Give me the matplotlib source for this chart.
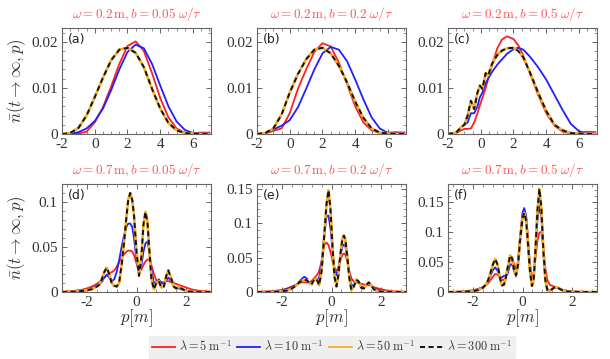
import matplotlib
matplotlib.use("Agg")
import matplotlib.pyplot as plt
from matplotlib.ticker import FixedLocator, AutoMinorLocator, FuncFormatter
from matplotlib.lines import Line2D

plt.rcParams['mathtext.fontset'] = 'cm'
plt.rcParams['axes.unicode_minus'] = False
plt.rcParams['font.family'] = 'serif'
plt.rcParams['font.serif'] = ['Liberation Serif', 'DejaVu Serif']

# ---------------- data ----------------
# top row, panels (a) and (b)
p_top = [-2, -1.5, -1, -0.5, 0, 0.5, 1, 1.5, 2, 2.5, 3, 3.5, 4, 4.5, 5, 5.5, 6, 6.5, 7]
red_a = [0, 0, 0.0001, 0.0005, 0.0025, 0.0058, 0.0103, 0.0152, 0.0191, 0.0201, 0.0180, 0.0132,
         0.0078, 0.0036, 0.0012, 0.0003, 0.0002, 0.0003, 0.0003]
blue_a = [0, 0, 0.0004, 0.0012, 0.0028, 0.0055, 0.0095, 0.0140, 0.0178, 0.0194, 0.0186, 0.0152,
          0.0105, 0.0060, 0.0027, 0.0009, 0.0002, 0.0001, 0.0001]
gold_a = [0, 0.0002, 0.0013, 0.0040, 0.0080, 0.0122, 0.0160, 0.0183, 0.0187, 0.0176, 0.0145, 0.0098,
          0.0055, 0.0024, 0.0008, 0.0002, 0.0001, 0, 0]
black_a = [0, 0.0002, 0.0013, 0.0040, 0.0080, 0.0122, 0.0160, 0.0183, 0.0187, 0.0176, 0.0145, 0.0098,
           0.0055, 0.0024, 0.0008, 0.0002, 0.0001, 0, 0]

red_b = [0, 0.0001, 0.0007, 0.0012, 0.0045, 0.0098, 0.0140, 0.0178, 0.0197, 0.0190, 0.0155, 0.0108,
         0.0060, 0.0025, 0.0008, 0.0002, 0.0003, 0.0004, 0.0003]
blue_b = [0, 0.0001, 0.0010, 0.0018, 0.0030, 0.0058, 0.0098, 0.0140, 0.0175, 0.0189, 0.0183, 0.0158,
          0.0118, 0.0075, 0.0036, 0.0012, 0.0002, 0.0001, 0.0001]
gold_b = [0, 0.0002, 0.0012, 0.0042, 0.0090, 0.0130, 0.0162, 0.0183, 0.0187, 0.0175, 0.0148, 0.0112,
          0.0070, 0.0035, 0.0012, 0.0003, 0.0001, 0, 0]
black_b = [0, 0.0002, 0.0012, 0.0042, 0.0090, 0.0130, 0.0162, 0.0183, 0.0187, 0.0175, 0.0148, 0.0112,
           0.0070, 0.0035, 0.0012, 0.0003, 0.0001, 0, 0]

# panel (c)
p_c = [-2, -1.5, -1.2, -1.0, -0.8, -0.6, -0.4, -0.2, -0.05, 0.1, 0.3, 0.45, 0.7, 1.0, 1.3, 1.6,
       2.0, 2.3, 2.6, 3.0, 3.5, 4.0, 4.5, 5.0, 5.5, 6.0, 6.5, 7.0]
red_c = [0, 0.0002, 0.0008, 0.0011, 0.0011, 0.0012, 0.0025, 0.0045, 0.0063, 0.0078, 0.0100, 0.0120,
         0.0150, 0.0185, 0.0205, 0.0212, 0.0206, 0.0192, 0.0170, 0.0132, 0.0085, 0.0045, 0.0018,
         0.0005, 0.0001, 0.0002, 0.0005, 0.0004]
blue_c = [0, 0.0003, 0.0015, 0.0020, 0.0025, 0.0045, 0.0045, 0.0060, 0.0080, 0.0090, 0.0110, 0.0120,
          0.0135, 0.0150, 0.0162, 0.0174, 0.0184, 0.0187, 0.0183, 0.0168, 0.0145, 0.0118, 0.0085,
          0.0052, 0.0022, 0.0006, 0.0001, 0]
gold_c = [0, 0.0003, 0.0015, 0.0020, 0.0040, 0.0072, 0.0054, 0.0090, 0.0105, 0.0098, 0.0132, 0.0127,
          0.0153, 0.0171, 0.0181, 0.0186, 0.0187, 0.0180, 0.0166, 0.0134, 0.0090, 0.0050, 0.0020,
          0.0008, 0.0002, 0.0001, 0, 0]
black_c = [0, 0.0003, 0.0015, 0.0020, 0.0040, 0.0072, 0.0054, 0.0090, 0.0105, 0.0098, 0.0132, 0.0127,
           0.0153, 0.0171, 0.0181, 0.0186, 0.0187, 0.0180, 0.0166, 0.0134, 0.0090, 0.0050, 0.0020,
           0.0008, 0.0002, 0.0001, 0, 0]

# panel (d)
p_d = [-3, -2.5, -2.2, -2.0, -1.8, -1.6, -1.5, -1.4, -1.3, -1.2, -1.1, -1.0, -0.9, -0.8, -0.7, -0.6,
       -0.5, -0.4, -0.33, -0.25, -0.17, -0.1, 0.0, 0.1, 0.2, 0.28, 0.36, 0.44, 0.52, 0.6, 0.7, 0.8,
       0.9, 1.0, 1.1, 1.2, 1.28, 1.4, 1.5, 1.6, 1.7, 1.8, 2.0, 2.2, 2.5, 3.0]
red_d = [0.0003, 0.0012, 0.0025, 0.004, 0.006, 0.009, 0.011, 0.013, 0.016, 0.019, 0.021, 0.022,
         0.024, 0.028, 0.033, 0.038, 0.042, 0.045, 0.046, 0.046, 0.045, 0.041, 0.032, 0.023, 0.025,
         0.030, 0.034, 0.036, 0.036, 0.030, 0.020, 0.013, 0.011, 0.011, 0.011, 0.012, 0.012, 0.011,
         0.010, 0.009, 0.008, 0.007, 0.005, 0.003, 0.0015, 0.0004]
blue_d = [0, 0.0005, 0.0012, 0.002, 0.004, 0.007, 0.009, 0.011, 0.016, 0.019, 0.016, 0.012, 0.014,
          0.022, 0.035, 0.050, 0.063, 0.073, 0.076, 0.076, 0.072, 0.060, 0.035, 0.019, 0.030, 0.045,
          0.054, 0.056, 0.045, 0.025, 0.010, 0.011, 0.014, 0.010, 0.009, 0.013, 0.016, 0.012, 0.006,
          0.004, 0.004, 0.003, 0.0015, 0.0006, 0.0002, 0]
gold_d = [0, 0.0003, 0.001, 0.002, 0.003, 0.006, 0.008, 0.014, 0.022, 0.027, 0.020, 0.010, 0.007,
          0.006, 0.010, 0.030, 0.055, 0.085, 0.103, 0.110, 0.102, 0.085, 0.045, 0.018, 0.040, 0.075,
          0.089, 0.078, 0.045, 0.015, 0.003, 0.010, 0.012, 0.005, 0.006, 0.018, 0.024, 0.015, 0.006,
          0.004, 0.006, 0.004, 0.001, 0.0003, 0, 0]
black_d = [0, 0.0003, 0.001, 0.002, 0.003, 0.006, 0.008, 0.014, 0.022, 0.027, 0.020, 0.010, 0.007,
           0.006, 0.010, 0.030, 0.055, 0.085, 0.103, 0.110, 0.102, 0.085, 0.045, 0.018, 0.040, 0.075,
           0.089, 0.078, 0.045, 0.015, 0.003, 0.010, 0.012, 0.005, 0.006, 0.018, 0.024, 0.015, 0.006,
           0.004, 0.006, 0.004, 0.001, 0.0003, 0, 0]

# panel (e)
p_e = [-3, -2.5, -2.2, -2.0, -1.8, -1.6, -1.4, -1.3, -1.2, -1.1, -1.0, -0.9, -0.8, -0.7, -0.6, -0.5,
       -0.4, -0.3, -0.2, -0.12, -0.04, 0.05, 0.12, 0.2, 0.28, 0.36, 0.44, 0.5, 0.56, 0.64, 0.72, 0.8,
       0.9, 1.0, 1.1, 1.2, 1.3, 1.4, 1.5, 1.6, 1.7, 1.8, 2.0, 2.2, 2.5, 3.0]
red_e = [0.0002, 0.001, 0.002, 0.003, 0.005, 0.008, 0.011, 0.013, 0.014, 0.014, 0.014, 0.014, 0.016,
         0.020, 0.024, 0.030, 0.045, 0.068, 0.072, 0.068, 0.058, 0.044, 0.034, 0.031, 0.036, 0.046,
         0.054, 0.056, 0.054, 0.044, 0.030, 0.020, 0.015, 0.014, 0.013, 0.012, 0.011, 0.010, 0.010,
         0.009, 0.007, 0.006, 0.004, 0.0025, 0.001, 0.0003]
blue_e = [0, 0.0003, 0.001, 0.002, 0.004, 0.007, 0.011, 0.015, 0.019, 0.022, 0.020, 0.013, 0.014,
          0.019, 0.018, 0.020, 0.042, 0.080, 0.110, 0.111, 0.092, 0.058, 0.034, 0.024, 0.035, 0.053,
          0.066, 0.069, 0.066, 0.048, 0.025, 0.010, 0.010, 0.016, 0.014, 0.008, 0.007, 0.010, 0.013,
          0.010, 0.006, 0.004, 0.0015, 0.0006, 0.0001, 0]
gold_e = [0, 0, 0.0003, 0.001, 0.002, 0.005, 0.010, 0.014, 0.016, 0.018, 0.017, 0.013, 0.011, 0.018,
          0.019, 0.010, 0.030, 0.078, 0.128, 0.148, 0.120, 0.060, 0.022, 0.008, 0.025, 0.055, 0.078,
          0.082, 0.076, 0.050, 0.020, 0.003, 0.008, 0.018, 0.015, 0.006, 0.005, 0.010, 0.014, 0.010,
          0.004, 0.002, 0.0005, 0.0002, 0, 0]
black_e = [0, 0, 0.0003, 0.001, 0.002, 0.005, 0.010, 0.014, 0.016, 0.018, 0.017, 0.013, 0.011, 0.018,
           0.019, 0.010, 0.030, 0.078, 0.128, 0.148, 0.120, 0.060, 0.022, 0.008, 0.025, 0.055, 0.078,
           0.082, 0.076, 0.050, 0.020, 0.003, 0.008, 0.018, 0.015, 0.006, 0.005, 0.010, 0.014, 0.010,
           0.004, 0.002, 0.0005, 0.0002, 0, 0]

# panel (f)
p_f = [-3, -2.5, -2.0, -1.8, -1.6, -1.5, -1.4, -1.3, -1.2, -1.1, -1.0, -0.9, -0.83, -0.75, -0.68,
       -0.6, -0.5, -0.42, -0.35, -0.26, -0.18, -0.1, 0.0, 0.07, 0.15, 0.22, 0.3, 0.38, 0.45, 0.52,
       0.6, 0.68, 0.76, 0.84, 0.92, 1.0, 1.1, 1.2, 1.3, 1.4, 1.5, 1.6, 1.8, 2.0, 2.5, 3.0]
red_f = [0.0001, 0.0006, 0.003, 0.005, 0.008, 0.010, 0.014, 0.019, 0.025, 0.030, 0.029, 0.024, 0.020,
         0.020, 0.024, 0.035, 0.055, 0.058, 0.048, 0.038, 0.052, 0.090, 0.128, 0.137, 0.125, 0.090,
         0.048, 0.025, 0.030, 0.055, 0.085, 0.099, 0.100, 0.075, 0.040, 0.020, 0.012, 0.010, 0.009,
         0.008, 0.006, 0.004, 0.002, 0.001, 0.0002, 0]
blue_f = [0, 0.0003, 0.002, 0.004, 0.008, 0.012, 0.018, 0.026, 0.036, 0.041, 0.035, 0.026, 0.024,
          0.027, 0.027, 0.030, 0.046, 0.046, 0.036, 0.026, 0.045, 0.090, 0.132, 0.140, 0.125, 0.085,
          0.040, 0.015, 0.022, 0.065, 0.118, 0.144, 0.125, 0.065, 0.020, 0.005, 0.003, 0.005, 0.007,
          0.007, 0.005, 0.003, 0.001, 0.0004, 0, 0]
gold_f = [0, 0.0002, 0.0015, 0.003, 0.007, 0.011, 0.018, 0.030, 0.045, 0.055, 0.045, 0.022, 0.011,
          0.012, 0.022, 0.040, 0.061, 0.056, 0.040, 0.028, 0.045, 0.085, 0.122, 0.132, 0.118, 0.080,
          0.035, 0.010, 0.020, 0.070, 0.135, 0.172, 0.140, 0.070, 0.020, 0.003, 0.002, 0.005, 0.008,
          0.008, 0.005, 0.003, 0.001, 0.0003, 0, 0]
black_f = [0, 0.0002, 0.0015, 0.003, 0.007, 0.011, 0.018, 0.030, 0.045, 0.055, 0.045, 0.022, 0.011,
           0.012, 0.022, 0.040, 0.061, 0.056, 0.040, 0.028, 0.045, 0.085, 0.122, 0.132, 0.118, 0.080,
           0.035, 0.010, 0.020, 0.070, 0.135, 0.172, 0.140, 0.070, 0.020, 0.003, 0.002, 0.005, 0.008,
           0.008, 0.005, 0.003, 0.001, 0.0003, 0, 0]

titles = [r'$\omega = 0.2\,\mathrm{m}, b = 0.05\;\omega/\tau$',
          r'$\omega = 0.2\,\mathrm{m}, b = 0.2\;\omega/\tau$',
          r'$\omega = 0.2\,\mathrm{m}, b = 0.5\;\omega/\tau$',
          r'$\omega = 0.7\,\mathrm{m}, b = 0.05\;\omega/\tau$',
          r'$\omega = 0.7\,\mathrm{m}, b = 0.2\;\omega/\tau$',
          r'$\omega = 0.7\,\mathrm{m}, b = 0.5\;\omega/\tau$']
panel_tags = ['(a)', '(b)', '(c)', '(d)', '(e)', '(f)']
legend_labels = [r'$\lambda = 5\;\mathrm{m}^{-1}$', r'$\lambda = 10\;\mathrm{m}^{-1}$',
                 r'$\lambda = 50\;\mathrm{m}^{-1}$', r'$\lambda = 300\;\mathrm{m}^{-1}$']
top_xticks = [-2, 0, 2, 4, 6]
bot_xticks = [-2, 0, 2]
top_yticks = [0, 0.01, 0.02]
bot_yticks = [[0, 0.05, 0.1], [0, 0.05, 0.1, 0.15], [0, 0.05, 0.1, 0.15]]

panels = [
    (p_top, red_a, blue_a, gold_a, black_a),
    (p_top, red_b, blue_b, gold_b, black_b),
    (p_c, red_c, blue_c, gold_c, black_c),
    (p_d, red_d, blue_d, gold_d, black_d),
    (p_e, red_e, blue_e, gold_e, black_e),
    (p_f, red_f, blue_f, gold_f, black_f),
]

# ---------------- style ----------------
C_RED = '#ff1f1f'
C_BLUE = '#1f1fff'
C_GOLD = '#f2ae2a'
C_BLACK = '#111111'
TITLE_C = '#ff5555'
FRAME_C = '#666666'
TICK_C = '#333333'

fig = plt.figure(figsize=(6.10, 3.59), dpi=100)
lefts = [62 / 610, 257 / 610, 448 / 610]
width = 149 / 610
top_row = (1 - 134 / 359, 106 / 359)
bot_row = (1 - 292 / 359, 108 / 359)
ylims = [(0, 0.023), (0, 0.023), (0, 0.023), (0, 0.12), (0, 0.157), (0, 0.18)]

fmt = FuncFormatter(lambda v, pos: f'{v:g}')

for i, (p, r, b, g, k) in enumerate(panels):
    row = 0 if i < 3 else 1
    col = i % 3
    bottom, height = top_row if row == 0 else bot_row
    ax = fig.add_axes([lefts[col], bottom, width, height])
    ax.plot(p, r, color=C_RED, lw=1.3)
    ax.plot(p, b, color=C_BLUE, lw=1.3)
    ax.plot(p, g, color=C_GOLD, lw=1.9)
    ax.plot(p, k, color=C_BLACK, lw=1.4, dashes=(2.6, 1.8))
    if row == 0:
        ax.set_xlim(-2, 7.1)
        ax.xaxis.set_major_locator(FixedLocator(top_xticks))
        ax.yaxis.set_major_locator(FixedLocator(top_yticks))
        ax.xaxis.set_minor_locator(AutoMinorLocator(4))
        ax.yaxis.set_minor_locator(AutoMinorLocator(5))
    else:
        ax.set_xlim(-3, 3)
        ax.xaxis.set_major_locator(FixedLocator(bot_xticks))
        ax.yaxis.set_major_locator(FixedLocator(bot_yticks[col]))
        ax.xaxis.set_minor_locator(AutoMinorLocator(5))
        ax.yaxis.set_minor_locator(AutoMinorLocator(5))
        ax.set_xlabel(r'$p[m]$', fontsize=12, color=TICK_C, labelpad=-1)
    ax.set_ylim(*ylims[i])
    ax.xaxis.set_major_formatter(fmt)
    ax.yaxis.set_major_formatter(fmt)
    ax.tick_params(which='both', direction='in', top=True, right=True,
                   color=FRAME_C, labelcolor=TICK_C, labelsize=11, pad=3)
    ax.tick_params(which='major', length=3.5, width=0.7)
    ax.tick_params(which='minor', length=2, width=0.5)
    for s in ax.spines.values():
        s.set_color(FRAME_C)
        s.set_linewidth(0.8)
    ax.set_title(titles[i], color=TITLE_C, fontsize=9.5, pad=7)
    ax.text(0.04, 0.95, panel_tags[i], transform=ax.transAxes, va='top', ha='left',
            fontsize=9, family='DejaVu Sans', color='#222222')
    if col == 0:
        ax.set_ylabel(r'$\bar{n}(t\to\infty,p)$', fontsize=12, color=TICK_C, labelpad=2)

handles = [Line2D([], [], color=C_RED, lw=1.3),
           Line2D([], [], color=C_BLUE, lw=1.3),
           Line2D([], [], color=C_GOLD, lw=1.3),
           Line2D([], [], color=C_BLACK, lw=1.4, dashes=(2.6, 1.8))]
leg = fig.legend(handles, legend_labels, loc='center', bbox_to_anchor=(332 / 610, 1 - 347 / 359),
                 ncol=4, fontsize=8.8, frameon=True, fancybox=False, handlelength=1.9,
                 handletextpad=0.3, columnspacing=0.45, borderpad=0.25, borderaxespad=0)
leg.get_frame().set_facecolor('#ececec')
leg.get_frame().set_edgecolor('#ececec')
for t in leg.get_texts():
    t.set_color(TICK_C)

fig.savefig('out.png', dpi=100)
